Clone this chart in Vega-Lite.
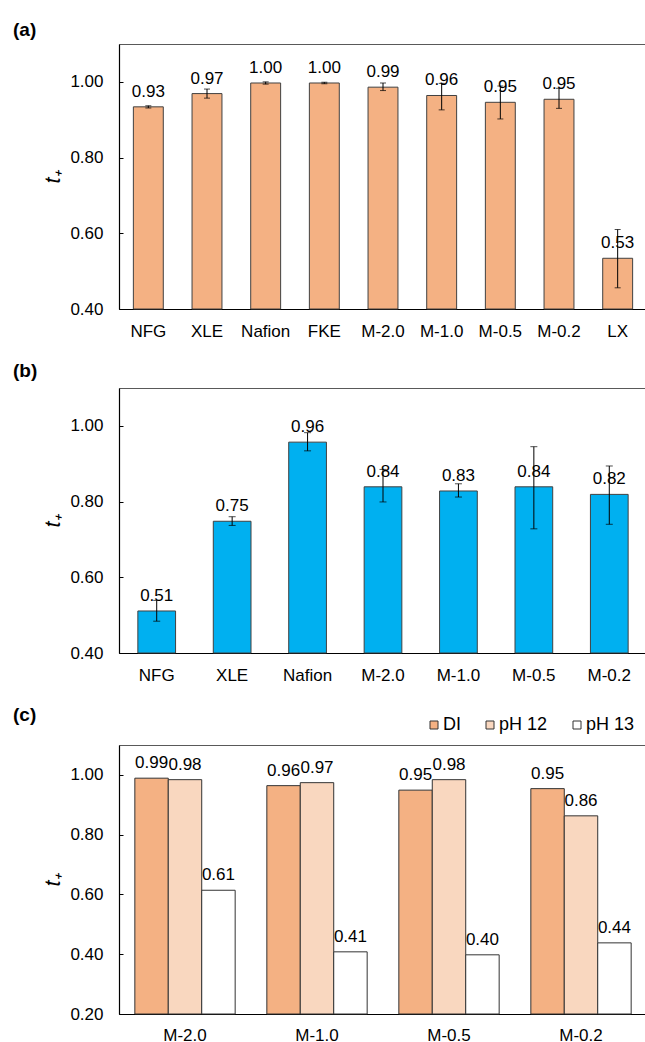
{
  "$schema": "https://vega.github.io/schema/vega-lite/v6.json",
  "padding": {"left": 12, "top": 20, "right": 0, "bottom": 0},
  "background": "white",
  "config": {
    "font": "Liberation Sans",
    "view": {"stroke": "#595959", "strokeWidth": 1},
    "axis": {"labelFont": "Liberation Sans", "labelFontSize": 17, "labelColor": "#000", "grid": false, "domainColor": "#000", "tickColor": "#000", "domainWidth": 1.2},
    "axisX": {"ticks": false, "labelPadding": 14, "labelAngle": 0, "title": null},
    "axisY": {"tickSize": -4, "labelPadding": 20, "titleFont": "Liberation Sans", "titleFontStyle": "italic", "titleFontWeight": "normal", "titleFontSize": 22, "titleColor": "#000", "titlePadding": 5},
    "title": {"fontSize": 19, "fontWeight": "bold", "anchor": "start", "frame": "group", "dx": -106, "color": "#000", "offset": 4, "font": "Liberation Sans"},
    "concat": {"spacing": 21}
  },
  "resolve": {"scale": {"color": "independent"}, "legend": {"color": "independent"}},
  "datasets": {
    "a": [
      {"m": "NFG", "t": 0.934, "lo": 0.931, "hi": 0.937},
      {"m": "XLE", "t": 0.969, "lo": 0.957, "hi": 0.981},
      {"m": "Nafion", "t": 0.997, "lo": 0.994, "hi": 1.0},
      {"m": "FKE", "t": 0.997, "lo": 0.995, "hi": 0.999},
      {"m": "M-2.0", "t": 0.986, "lo": 0.977, "hi": 0.997},
      {"m": "M-1.0", "t": 0.964, "lo": 0.926, "hi": 0.996},
      {"m": "M-0.5", "t": 0.946, "lo": 0.902, "hi": 0.989},
      {"m": "M-0.2", "t": 0.954, "lo": 0.930, "hi": 0.983},
      {"m": "LX", "t": 0.534, "lo": 0.456, "hi": 0.610}
    ],
    "b": [
      {"m": "NFG", "t": 0.511, "lo": 0.484, "hi": 0.539},
      {"m": "XLE", "t": 0.748, "lo": 0.737, "hi": 0.760},
      {"m": "Nafion", "t": 0.957, "lo": 0.934, "hi": 0.982},
      {"m": "M-2.0", "t": 0.839, "lo": 0.799, "hi": 0.885},
      {"m": "M-1.0", "t": 0.828, "lo": 0.812, "hi": 0.847},
      {"m": "M-0.5", "t": 0.839, "lo": 0.728, "hi": 0.945},
      {"m": "M-0.2", "t": 0.819, "lo": 0.740, "hi": 0.894}
    ],
    "c": [
      {"m": "M-2.0", "s": "DI", "t": 0.989},
      {"m": "M-2.0", "s": "pH 12", "t": 0.984},
      {"m": "M-2.0", "s": "pH 13", "t": 0.614},
      {"m": "M-1.0", "s": "DI", "t": 0.964},
      {"m": "M-1.0", "s": "pH 12", "t": 0.974},
      {"m": "M-1.0", "s": "pH 13", "t": 0.408},
      {"m": "M-0.5", "s": "DI", "t": 0.949},
      {"m": "M-0.5", "s": "pH 12", "t": 0.984},
      {"m": "M-0.5", "s": "pH 13", "t": 0.398},
      {"m": "M-0.2", "s": "DI", "t": 0.954},
      {"m": "M-0.2", "s": "pH 12", "t": 0.863},
      {"m": "M-0.2", "s": "pH 13", "t": 0.438}
    ]
  },
  "vconcat": [
    {
      "title": "(a)",
      "width": 528,
      "height": 265,
      "data": {"name": "a"},
      "encoding": {
        "x": {"field": "m", "type": "nominal", "sort": null, "scale": {"paddingInner": 0.49, "paddingOuter": 0.245}}
      },
      "layer": [
        {
          "mark": {"type": "bar", "color": "#F4B183", "stroke": "#404040", "strokeWidth": 1},
          "encoding": {
            "y": {"field": "t", "type": "quantitative", "scale": {"domain": [0.4, 1.1], "nice": false, "zero": false}, "axis": {"values": [0.4, 0.6, 0.8, 1.0], "format": ".2f", "title": "t₊"}},
            "y2": {"datum": 0.4}
          }
        },
        {
          "mark": {"type": "rule", "color": "#000", "strokeWidth": 1},
          "encoding": {"y": {"field": "lo", "type": "quantitative"}, "y2": {"field": "hi"}}
        },
        {
          "mark": {"type": "tick", "color": "#000", "size": 6, "thickness": 1},
          "encoding": {"y": {"field": "lo", "type": "quantitative"}}
        },
        {
          "mark": {"type": "tick", "color": "#000", "size": 6, "thickness": 1},
          "encoding": {"y": {"field": "hi", "type": "quantitative"}}
        },
        {
          "mark": {"type": "text", "baseline": "alphabetic", "dy": -10, "fontSize": 17, "color": "#000", "font": "Liberation Sans"},
          "encoding": {"y": {"field": "t", "type": "quantitative"}, "text": {"field": "t", "type": "quantitative", "format": ".2f"}}
        }
      ]
    },
    {
      "title": {"text": "(b)", "offset": 7},
      "width": 528,
      "height": 265,
      "data": {"name": "b"},
      "encoding": {
        "x": {"field": "m", "type": "nominal", "sort": null, "scale": {"paddingInner": 0.5, "paddingOuter": 0.25}}
      },
      "layer": [
        {
          "mark": {"type": "bar", "color": "#00B0F0", "stroke": "#404040", "strokeWidth": 1},
          "encoding": {
            "y": {"field": "t", "type": "quantitative", "scale": {"domain": [0.4, 1.1], "nice": false, "zero": false}, "axis": {"values": [0.4, 0.6, 0.8, 1.0], "format": ".2f", "title": "t₊"}},
            "y2": {"datum": 0.4}
          }
        },
        {
          "mark": {"type": "rule", "color": "#000", "strokeWidth": 1},
          "encoding": {"y": {"field": "lo", "type": "quantitative"}, "y2": {"field": "hi"}}
        },
        {
          "mark": {"type": "tick", "color": "#000", "size": 7, "thickness": 1},
          "encoding": {"y": {"field": "lo", "type": "quantitative"}}
        },
        {
          "mark": {"type": "tick", "color": "#000", "size": 7, "thickness": 1},
          "encoding": {"y": {"field": "hi", "type": "quantitative"}}
        },
        {
          "mark": {"type": "text", "baseline": "alphabetic", "dy": -10, "fontSize": 17, "color": "#000", "font": "Liberation Sans"},
          "encoding": {"y": {"field": "t", "type": "quantitative"}, "text": {"field": "t", "type": "quantitative", "format": ".2f"}}
        }
      ]
    },
    {
      "title": {"text": "(c)", "offset": -9},
      "width": 528,
      "height": 269,
      "data": {"name": "c"},
      "encoding": {
        "x": {"field": "m", "type": "nominal", "sort": null, "scale": {"paddingInner": 0.24, "paddingOuter": 0.12}, "axis": {"labelPadding": 13}},
        "xOffset": {"field": "s", "type": "nominal", "sort": null, "scale": {"paddingInner": 0, "paddingOuter": 0}}
      },
      "layer": [
        {
          "mark": {"type": "bar", "stroke": "#333333", "strokeWidth": 1},
          "encoding": {
            "y": {"field": "t", "type": "quantitative", "scale": {"domain": [0.2, 1.1], "nice": false, "zero": false}, "axis": {"values": [0.2, 0.4, 0.6, 0.8, 1.0], "format": ".2f", "title": "t₊"}},
            "y2": {"datum": 0.2},
            "color": {
              "field": "s", "type": "nominal", "sort": null,
              "scale": {"domain": ["DI", "pH 12", "pH 13"], "range": ["#F4B183", "#F9D7BF", "#FFFFFF"]},
              "legend": {"orient": "none", "legendX": 306, "legendY": -29, "direction": "horizontal", "title": null, "symbolType": "square", "symbolSize": 64, "labelFontSize": 18, "labelFont": "Liberation Sans", "labelColor": "#000", "columnPadding": 20, "labelOffset": 0, "symbolStrokeColor": "#333333", "symbolStrokeWidth": 1, "symbolOpacity": 1}
            }
          }
        },
        {
          "mark": {"type": "text", "baseline": "alphabetic", "dy": -10, "fontSize": 17, "color": "#000", "font": "Liberation Sans"},
          "encoding": {"y": {"field": "t", "type": "quantitative"}, "text": {"field": "t", "type": "quantitative", "format": ".2f"}}
        }
      ]
    }
  ]
}
